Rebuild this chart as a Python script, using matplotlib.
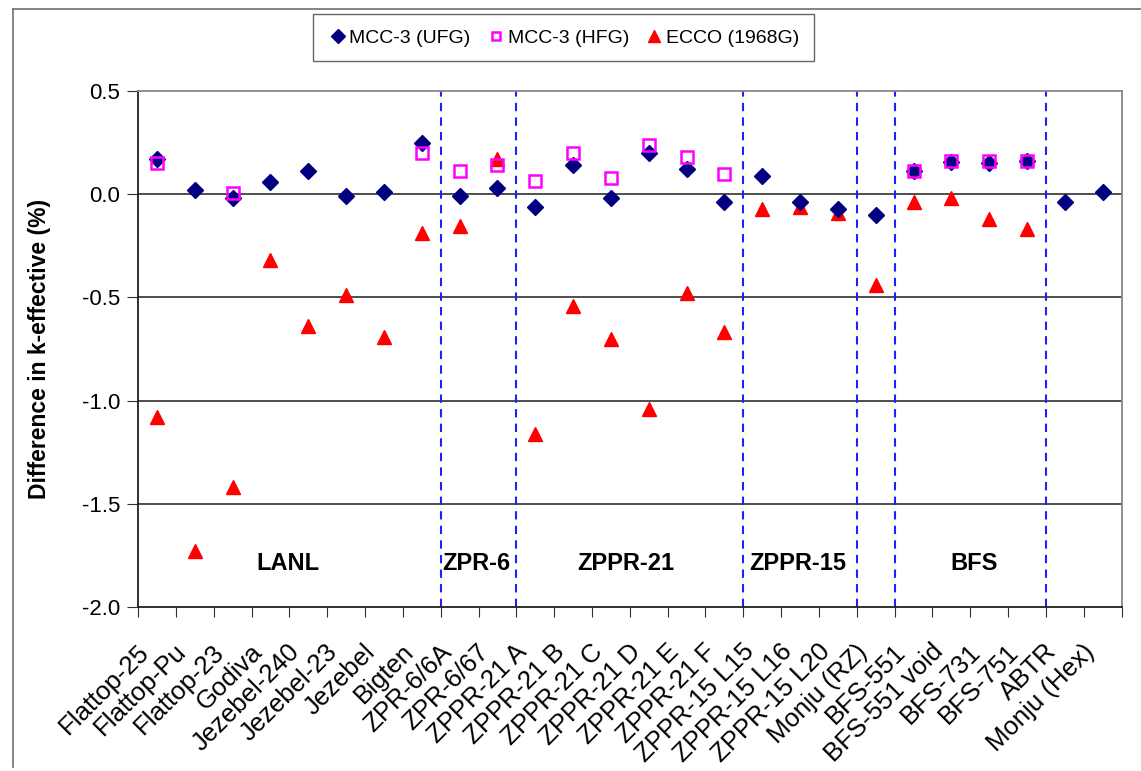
import matplotlib
matplotlib.use("Agg")
import matplotlib.pyplot as plt
import matplotlib.transforms as mtransforms
import numpy as np
from matplotlib.lines import Line2D

categories = ["Flattop-25", "Flattop-Pu", "Flattop-23", "Godiva", "Jezebel-240",
              "Jezebel-23", "Jezebel", "Bigten", "ZPR-6/6A", "ZPR-6/67",
              "ZPPR-21 A", "ZPPR-21 B", "ZPPR-21 C", "ZPPR-21 D", "ZPPR-21 E",
              "ZPPR-21 F", "ZPPR-15 L15", "ZPPR-15 L16", "ZPPR-15 L20", "Monju (RZ)",
              "BFS-551", "BFS-551 void", "BFS-731", "BFS-751", "ABTR", "Monju (Hex)"]

mcc3_ufg = [0.17, 0.02, -0.02, 0.06, 0.11, -0.01, 0.01, 0.25, -0.01, 0.03,
            -0.06, 0.14, -0.02, 0.20, 0.12, -0.04, 0.09, -0.04, -0.07, -0.10,
            0.11, 0.155, 0.15, 0.16, -0.04, 0.01]

nan = np.nan
mcc3_hfg = [0.15, nan, 0.005, nan, nan, nan, nan, 0.20, 0.11, 0.14,
            0.065, 0.20, 0.08, 0.24, 0.18, 0.10, nan, nan, nan, nan,
            0.11, 0.16, 0.16, 0.16, nan, nan]

ecco = [-1.08, -1.73, -1.42, -0.32, -0.64, -0.49, -0.69, -0.19, -0.155, 0.17,
        -1.16, -0.54, -0.70, -1.04, -0.48, -0.67, -0.07, -0.06, -0.09, -0.44,
        -0.04, -0.02, -0.12, -0.17, nan, nan]

group_names = ["LANL", "ZPR-6", "ZPPR-21", "ZPPR-15", "BFS"]
group_label_x = [3.95, 8.95, 12.9, 17.45, 22.1]
group_bounds = [8, 10, 16, 19, 20, 24]

FONT = "Liberation Sans"

fig = plt.figure(figsize=(11.41, 7.71), dpi=100)
ax = fig.add_axes([0.121, 0.2127, 0.862, 0.6693])

x = np.arange(len(categories)) + 0.5

for yv in [0.0, -0.5, -1.0, -1.5]:
    ax.axhline(yv, color="#303030", lw=1.2, zorder=1)

for b in group_bounds:
    ax.axvline(b, color="#2020ff", lw=1.5, ls=(0, (4, 3)), zorder=1)

ax.plot(x, mcc3_ufg, ls="none", marker="D", ms=8.5, color="#000080",
        label="MCC-3 (UFG)", zorder=3)
ax.plot(x, mcc3_hfg, ls="none", marker="s", ms=8, mfc="none", mec="#ff00ff",
        mew=1.8, label="MCC-3 (HFG)", zorder=4)
ax.plot(x, ecco, ls="none", marker="^", ms=10, color="#ff0000",
        label="ECCO (1968G)", zorder=2)

for name, gx in zip(group_names, group_label_x):
    ax.text(gx, -1.79, name, ha="center", va="center", fontsize=17,
            fontweight="bold", family=FONT)

ax.set_xlim(0, len(categories))
ax.set_ylim(-2.0, 0.5)
ax.set_yticks([0.5, 0.0, -0.5, -1.0, -1.5, -2.0])
ax.set_yticklabels(["0.5", "0.0", "-0.5", "-1.0", "-1.5", "-2.0"],
                   fontsize=16, family=FONT)
ax.set_xticks(np.arange(len(categories) + 1))
ax.set_xticklabels([])

# category labels, rotated, placed under each category centre
lbl_trans = ax.get_xaxis_transform() + mtransforms.ScaledTranslation(
    -0.12, -0.41, fig.dpi_scale_trans)
for xi, cat in zip(x, categories):
    ax.text(xi, 0, cat, transform=lbl_trans, rotation=45, ha="right", va="center",
            rotation_mode="anchor", fontsize=18.5, family=FONT, clip_on=False)

ax.tick_params(axis="x", which="major", length=7, direction="out", color="#303030")
ax.tick_params(axis="y", length=8, direction="out", color="#303030", pad=5)

ax.set_ylabel("Difference in k-effective (%)", fontsize=16.5, fontweight="bold",
              family=FONT, labelpad=22)

for s in ["left", "bottom"]:
    ax.spines[s].set_color("#202020")
    ax.spines[s].set_linewidth(1.3)
for s in ["top", "right"]:
    ax.spines[s].set_color("#888888")
    ax.spines[s].set_linewidth(1.3)

leg = fig.legend(loc="center", bbox_to_anchor=(0.494, 0.951), ncol=3,
                 frameon=True, fancybox=False, edgecolor="#404040",
                 prop={"family": FONT, "size": 14},
                 handletextpad=0.1, columnspacing=0.8, handlelength=1.0,
                 borderpad=0.75, markerscale=0.8)
leg.get_frame().set_linewidth(1.0)

# outer chart-area border (top and left only visible)
W, H = 1141, 771
fig.lines.append(Line2D([13 / W, 1.0], [1 - 9 / H, 1 - 9 / H], transform=fig.transFigure,
                        color="#707070", lw=1.2))
fig.lines.append(Line2D([13 / W, 13 / W], [1 - 9 / H, 0.005], transform=fig.transFigure,
                        color="#707070", lw=1.2))

fig.savefig("out.png", dpi=100)
